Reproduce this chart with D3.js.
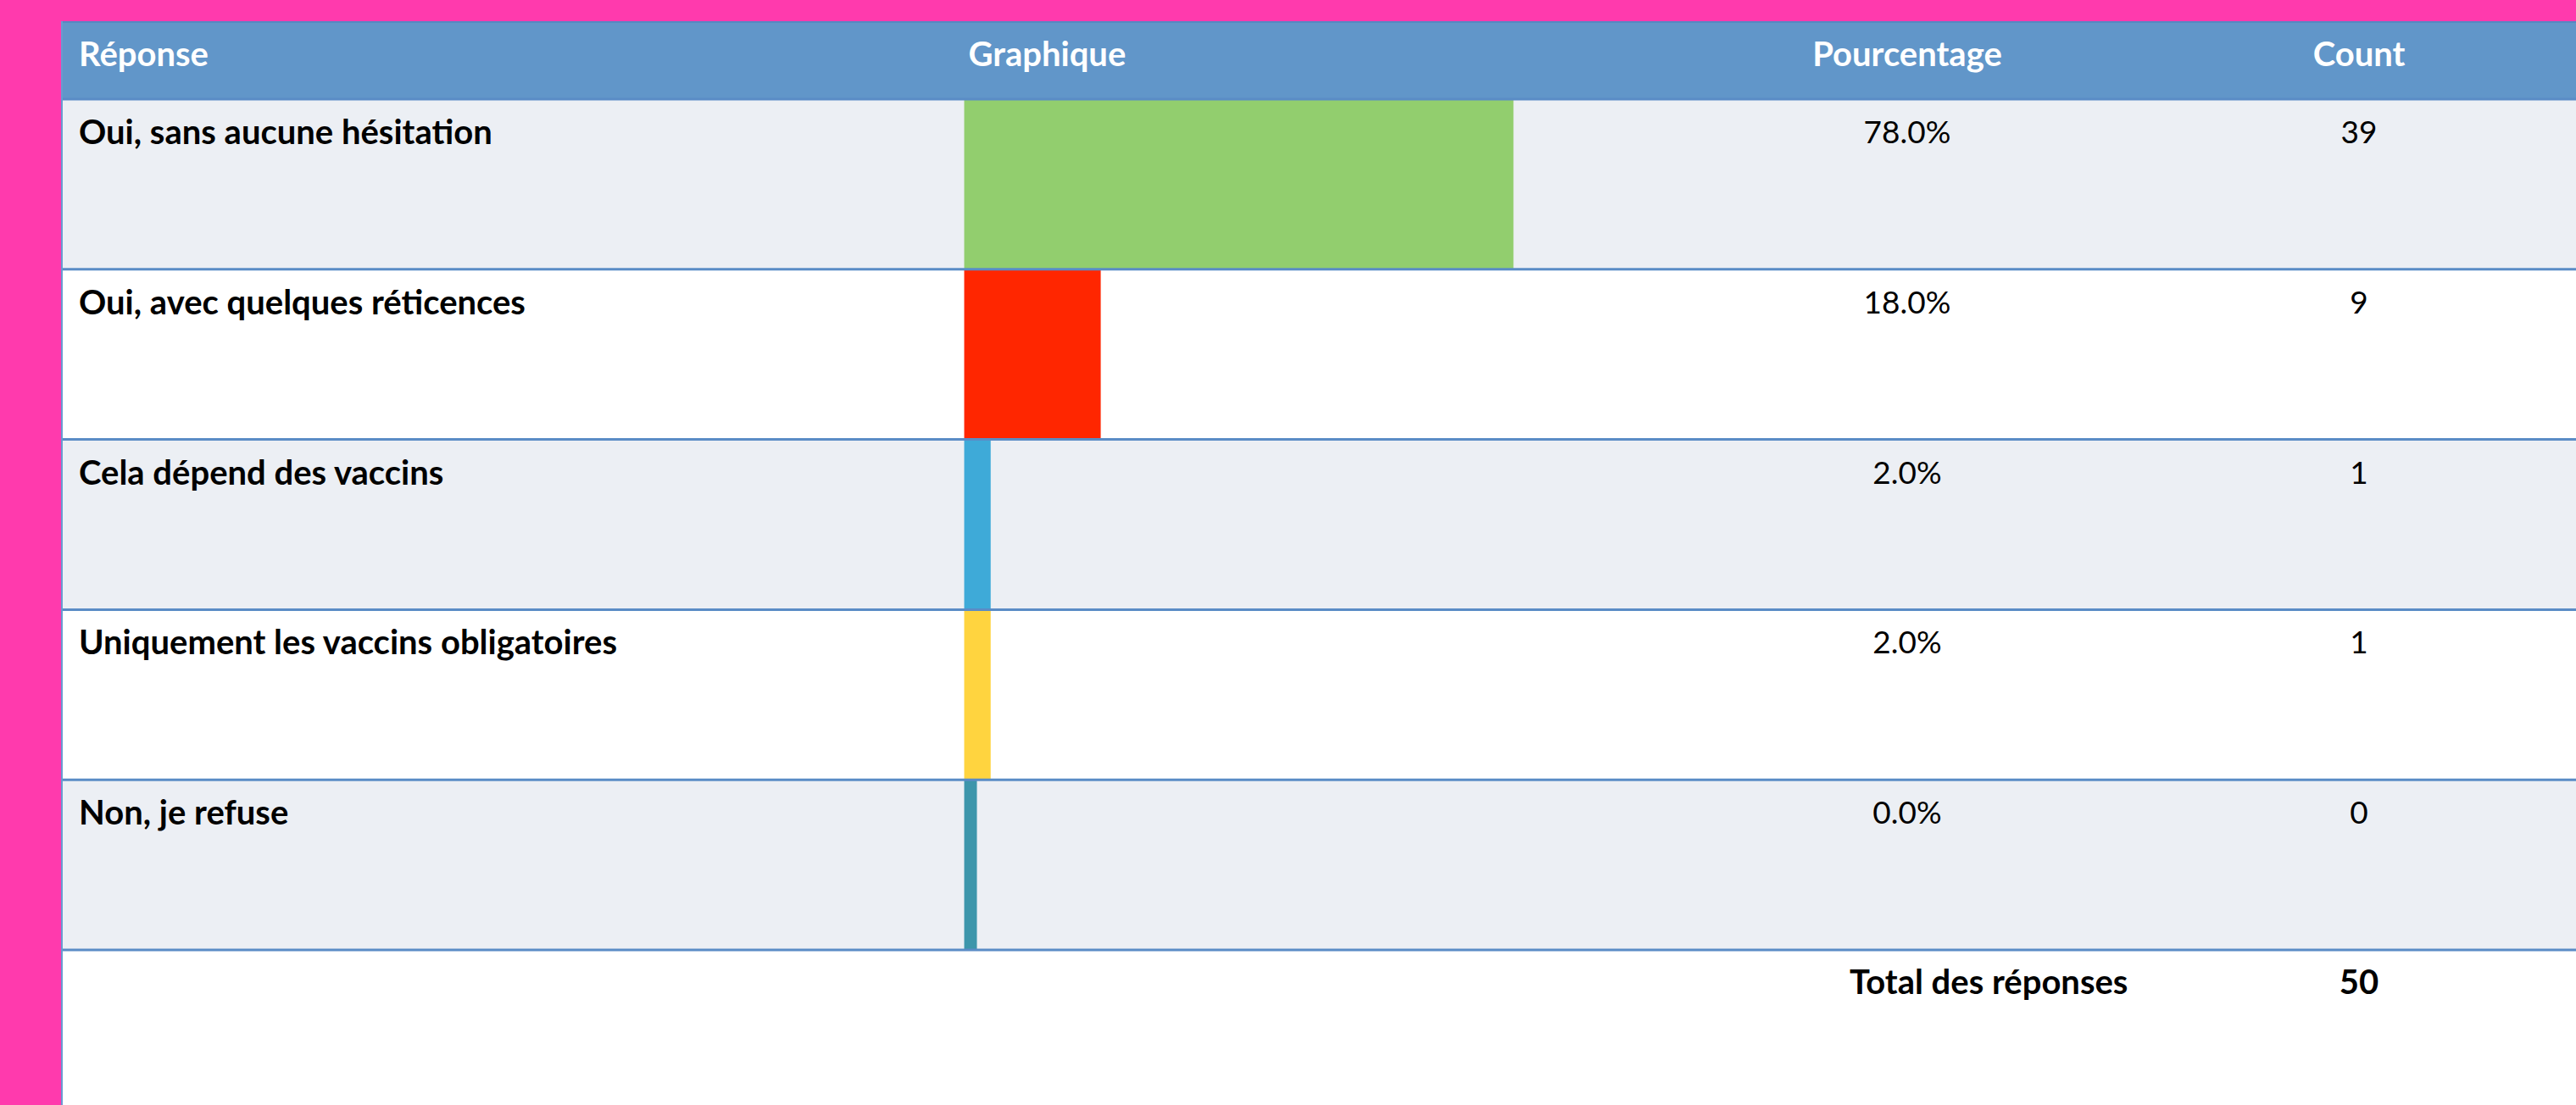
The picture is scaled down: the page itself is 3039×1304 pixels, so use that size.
<!DOCTYPE html>
<html>
<head>
<meta charset="utf-8">
<script src="https://cdn.jsdelivr.net/npm/d3@7"></script>
<style>
  html, body { margin: 0; padding: 0; background: #ff3aad; }
  svg { display: block; }
  text { font-family: Lato, "Open Sans", sans-serif; }
</style>
</head>
<body>
<svg id="chart" width="3039" height="1304"></svg>
<script>
// ---- data ----
const headers = ["Réponse", "Graphique", "Pourcentage", "Count"];
const responses = [
  "Oui, sans aucune hésitation",
  "Oui, avec quelques réticences",
  "Cela dépend des vaccins",
  "Uniquement les vaccins obligatoires",
  "Non, je refuse"
];
const percentages = [78.0, 18.0, 2.0, 2.0, 0.0];
const counts = [39, 9, 1, 1, 0];
const totalLabel = "Total des réponses";
const totalCount = 50;
const barColors = ["#92ce6e", "#ff2600", "#3eaad8", "#ffd43f", "#3d96ab"];

// ---- layout ----
const W = 3039, H = 1304;
const tableLeft = 72, tableTop = 25, headerBottom = 117, rowsBottom = 1121;
const colLabelX = 93, colBarX = 1137.5, colPctX = 2250, colCountX = 2783;
const lineColor = "#5a8cc6";

const svg = d3.select("#chart");

// table background (white) with left border
svg.append("rect").attr("x", tableLeft).attr("y", tableTop)
  .attr("width", W - tableLeft).attr("height", H - tableTop).attr("fill", "#ffffff");

// header
svg.append("rect").attr("x", tableLeft).attr("y", tableTop)
  .attr("width", W - tableLeft).attr("height", headerBottom - tableTop).attr("fill", "#6196c9");

const y = d3.scaleBand().domain(responses).range([headerBottom, rowsBottom]).padding(0);
const x = d3.scaleLinear().domain([0, 100]).range([15, 826.5]);

const rows = svg.append("g").selectAll("g").data(responses).join("g")
  .attr("transform", d => `translate(0,${y(d)})`);

rows.append("rect")
  .attr("x", tableLeft).attr("y", 0)
  .attr("width", W - tableLeft).attr("height", y.bandwidth())
  .attr("fill", (d, i) => i % 2 === 0 ? "#eceff4" : "#ffffff");

rows.append("rect")
  .attr("x", colBarX).attr("y", 0)
  .attr("width", (d, i) => x(percentages[i]))
  .attr("height", y.bandwidth())
  .attr("fill", (d, i) => barColors[i]);

rows.append("text")
  .attr("x", colLabelX).attr("y", 53)
  .attr("font-size", 40).attr("font-weight", "bold").attr("fill", "#000")
  .text(d => d);

rows.append("text")
  .attr("x", colPctX).attr("y", 52).attr("text-anchor", "middle")
  .attr("font-size", 37).attr("fill", "#000")
  .text((d, i) => d3.format(".1f")(percentages[i]) + "%");

rows.append("text")
  .attr("x", colCountX).attr("y", 52).attr("text-anchor", "middle")
  .attr("font-size", 37).attr("fill", "#000")
  .text((d, i) => counts[i]);

// row separator lines
const lineYs = [headerBottom].concat(responses.map(d => y(d) + y.bandwidth()));
svg.append("g").selectAll("line").data(lineYs).join("line")
  .attr("x1", tableLeft).attr("x2", W)
  .attr("y1", d => d).attr("y2", d => d)
  .attr("stroke", lineColor).attr("stroke-width", 3);

// top border of header
svg.append("line").attr("x1", tableLeft).attr("x2", W)
  .attr("y1", tableTop + 1).attr("y2", tableTop + 1)
  .attr("stroke", "#5588c2").attr("stroke-width", 2);
// left border
svg.append("line").attr("x1", tableLeft + 1).attr("x2", tableLeft + 1)
  .attr("y1", tableTop).attr("y2", H)
  .attr("stroke", "#6a9ad0").attr("stroke-width", 2);

// header texts
const headerX = [colLabelX, colBarX + 5, colPctX, colCountX];
const headerAnchor = ["start", "start", "middle", "middle"];
svg.append("g").selectAll("text").data(headers).join("text")
  .attr("x", (d, i) => headerX[i]).attr("y", 78)
  .attr("text-anchor", (d, i) => headerAnchor[i])
  .attr("font-size", 40).attr("font-weight", "bold").attr("fill", "#ffffff")
  .text(d => d);

// total row
svg.append("text").attr("x", 2182).attr("y", 1173)
  .attr("font-size", 40).attr("font-weight", "bold").attr("fill", "#000")
  .text(totalLabel);
svg.append("text").attr("x", colCountX).attr("y", 1173).attr("text-anchor", "middle")
  .attr("font-size", 40).attr("font-weight", "bold").attr("fill", "#000")
  .text(totalCount);
</script>
</body>
</html>
